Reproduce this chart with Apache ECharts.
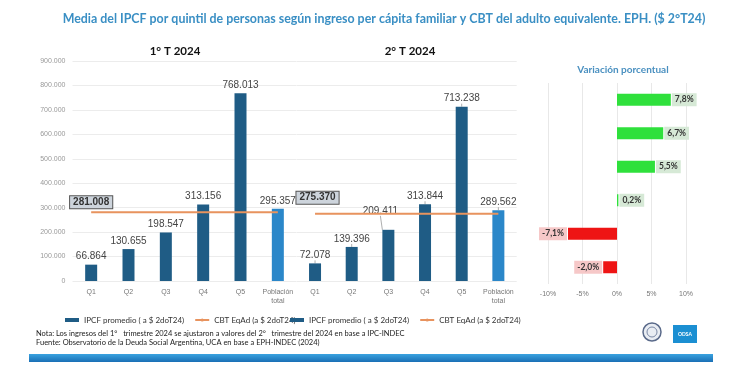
<!DOCTYPE html>
<html><head><meta charset="utf-8">
<script src="https://cdn.jsdelivr.net/npm/echarts@6/dist/echarts.min.js"></script>
<style>html,body{margin:0;padding:0;background:#fff}#c{width:750px;height:371px}</style>
</head><body><div id="c"></div>
<script>
const categories = ['Q1','Q2','Q3','Q4','Q5','Población\ntotal'];
const ipcfT1 = [66864,130655,198547,313156,768013,295357];
const ipcfT2 = [72078,139396,209411,313844,713238,289562];
const cbtT1 = 281008;
const cbtT2 = 275370;
const varCats = ['Q1','Q2','Q3','Q4','Q5','Población total'];
const variacion = [7.8,6.7,5.5,0.2,-7.1,-2.0];
const yTicks = {min:0,max:900000,interval:100000};
const xPctTicks = {min:-10,max:10,interval:5};

const IPCF = 'IPCF promedio ( a $ 2doT24)';
const CBT = 'CBT EqAd (a $ 2doT24)';
const fmt = n => String(n).replace(/\B(?=(\d{3})+(?!\d))/g,'.');
const dark = '#1f5c85', light = '#2b87c9', orange = '#e8935e';
const sans = 'Liberation Sans, Arial, sans-serif';
const cal = 'Lato, sans-serif';

function barData(arr){
  return arr.map((v,i)=> i===5 ? {value:v,itemStyle:{color:light}} : v);
}
function cbtData(v, dist, dx){
  return categories.map((c,i)=> i===0 ? {value:v,label:{show:true,distance:dist,offset:[dx,0]}} : v);
}
const cbtLabel = {show:false,position:'top',formatter:p=>fmt(p.value),fontFamily:sans,fontSize:10,fontWeight:'bold',color:'#333',
  backgroundColor:'#cdd4dc',borderColor:'#555',borderWidth:1,padding:[1,3]};
const barLabel = {show:true,position:'top',distance:3,formatter:p=>fmt(p.value),fontFamily:sans,fontSize:10,color:'#444'};
const catLabel = {fontSize:7,color:'#777',margin:7,lineHeight:9,interval:0};

const chart = echarts.init(document.getElementById('c'),null,{renderer:'canvas'});
const legendCommon = {top:311,itemWidth:14,itemHeight:4,itemGap:10,textStyle:{fontFamily:cal,fontSize:8,color:'#333'},
  data:[{name:IPCF,icon:'rect'},{name:CBT}],selectedMode:false};
chart.setOption({
  animation:false,
  textStyle:{fontFamily:sans},
  title:[
    {text:'Media del IPCF por quintil de personas según ingreso per cápita familiar y CBT del adulto equivalente. EPH. ($ 2°T24)',
     left:379,top:8,textAlign:'center',textStyle:{fontFamily:cal,fontSize:12.4,fontWeight:'bold',color:'#3a8fc4'}},
    {text:'1° T 2024',left:170,top:40,textAlign:'center',textStyle:{fontFamily:cal,fontSize:11.5,fontWeight:'bold',color:'#111'}},
    {text:'2° T 2024',left:405,top:40,textAlign:'center',textStyle:{fontFamily:cal,fontSize:11.5,fontWeight:'bold',color:'#111'}},
    {text:'Variación porcentual',left:618,top:60,textAlign:'center',textStyle:{fontFamily:cal,fontSize:10,fontWeight:'bold',color:'#4a90c0'}}
  ],
  legend:[Object.assign({left:60},legendCommon),Object.assign({left:285},legendCommon)],
  grid:[
    {left:72.5,top:61,width:224,height:220},
    {left:296.7,top:61,width:220,height:220},
    {left:548,top:83,width:138,height:201}
  ],
  xAxis:[
    {type:'category',gridIndex:0,data:categories,axisLine:{show:false},axisTick:{show:false},axisLabel:catLabel},
    {type:'category',gridIndex:1,data:categories,axisLine:{show:false},axisTick:{show:false},axisLabel:catLabel},
    {type:'value',gridIndex:2,min:xPctTicks.min,max:xPctTicks.max,interval:xPctTicks.interval,
     axisLine:{show:false},axisTick:{show:false},splitLine:{lineStyle:{color:'#e8e8e8'}},
     axisLabel:{fontSize:7,color:'#777',margin:7,formatter:v=>v+'%'}}
  ],
  yAxis:[
    {type:'value',gridIndex:0,min:yTicks.min,max:yTicks.max,interval:yTicks.interval,axisLine:{show:false},axisTick:{show:false},
     splitLine:{lineStyle:{color:'#ececec'}},axisLabel:{fontSize:7,color:'#999',margin:7,formatter:v=>fmt(v)}},
    {type:'value',gridIndex:1,min:yTicks.min,max:yTicks.max,interval:yTicks.interval,axisLine:{show:false},axisTick:{show:false},
     splitLine:{lineStyle:{color:'#ececec'}},axisLabel:{show:false}},
    {type:'category',gridIndex:2,data:varCats,inverse:true,axisLine:{show:false},axisTick:{show:false},axisLabel:{show:false}}
  ],
  series:[
    {name:IPCF,type:'bar',xAxisIndex:0,yAxisIndex:0,data:barData(ipcfT1),barWidth:12,itemStyle:{color:dark},label:barLabel},
    {name:IPCF,type:'bar',xAxisIndex:1,yAxisIndex:1,data:barData(ipcfT2),barWidth:12,itemStyle:{color:dark},label:barLabel,
     labelLayout:p=> p.dataIndex===2 ? {dx:-8,dy:-11} : null,
     labelLine:{show:true,lineStyle:{color:'#999',width:0.8}}},
    {name:CBT,type:'line',xAxisIndex:0,yAxisIndex:0,data:cbtData(cbtT1,4,0),symbol:'circle',symbolSize:0.01,showSymbol:true,z:5,
     lineStyle:{color:orange,width:2},itemStyle:{color:orange},label:cbtLabel},
    {name:CBT,type:'line',xAxisIndex:1,yAxisIndex:1,data:cbtData(cbtT2,10,2.5),symbol:'circle',symbolSize:0.01,showSymbol:true,z:5,
     lineStyle:{color:orange,width:2},itemStyle:{color:orange},label:cbtLabel},
    {type:'bar',xAxisIndex:2,yAxisIndex:2,barWidth:12,
     data:variacion.map(v=>({value:v,
       itemStyle:{color:v>=0?'#2fe03c':'#ee1414'},
       label:{position:v>=0?'right':'left',backgroundColor:v>=0?'#d6e9d6':'#f6c8c8'}})),
     label:{show:true,distance:1,formatter:p=>p.value.toFixed(1).replace('.',',')+'%',fontFamily:cal,fontSize:8.5,fontWeight:'bold',color:'#333',padding:[2,3]}}
  ],
  graphic:[
    {type:'text',left:36,top:330,style:{text:'Nota: Los ingresos del 1°   trimestre 2024 se ajustaron a valores del 2°   trimestre del 2024 en base a IPC-INDEC',font:'7.5px Lato, sans-serif',fill:'#222'}},
    {type:'text',left:36,top:339,style:{text:'Fuente: Observatorio de la Deuda Social Argentina, UCA en base a EPH-INDEC (2024)',font:'7.5px Lato, sans-serif',fill:'#222'}},
    {type:'rect',shape:{x:29,y:354,width:684,height:8},style:{fill:new echarts.graphic.LinearGradient(0,0,0,1,[{offset:0,color:'#3aa3e0'},{offset:1,color:'#1a6fb5'}])}},
    {type:'circle',shape:{cx:652,cy:332,r:9},style:{fill:'#e9edf3',stroke:'#5a6a8a',lineWidth:1.5}},
    {type:'circle',shape:{cx:652,cy:332,r:5},style:{fill:'none',stroke:'#7a88a5',lineWidth:1}},
    {type:'rect',shape:{x:673,y:325,width:24,height:18},style:{fill:'#1b8fd2'}},
    {type:'text',x:685,y:334,style:{text:'ODSA',font:'bold 5px Lato, sans-serif',fill:'#fff',align:'center',verticalAlign:'middle'}}
  ]
});
</script></body></html>
